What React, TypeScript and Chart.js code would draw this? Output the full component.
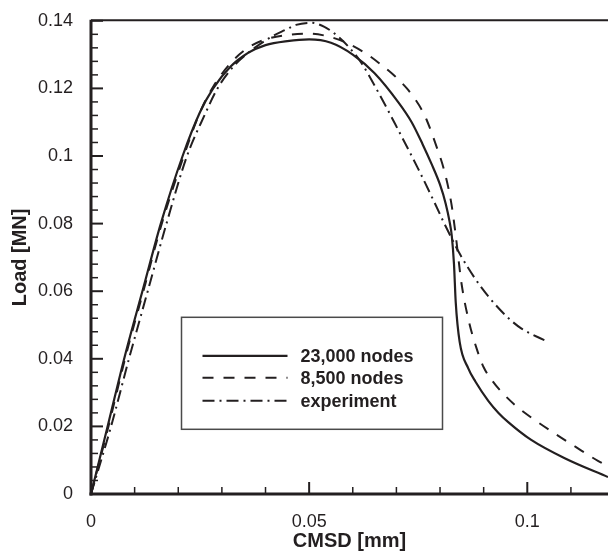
import React, { useEffect, useRef } from "react";
import { Chart, registerables } from "chart.js";

Chart.register(...registerables);

const seriesLabels = ["23,000 nodes", "8,500 nodes", "experiment"];

const fineX = [0, 0.004, 0.008, 0.012, 0.016, 0.021, 0.025, 0.028, 0.032, 0.036, 0.04, 0.045, 0.05, 0.055, 0.06, 0.065, 0.0705, 0.0735, 0.076, 0.078, 0.08, 0.0813, 0.0822, 0.0827, 0.0832, 0.0836, 0.0845, 0.0865, 0.0881, 0.0911, 0.0934, 0.0957, 0.1009, 0.1087, 0.1185];
const fineY = [0, 0.021, 0.042, 0.061, 0.08, 0.1, 0.113, 0.12, 0.1265, 0.1305, 0.1328, 0.134, 0.1345, 0.1335, 0.13, 0.1245, 0.1158, 0.11, 0.1035, 0.0978, 0.0915, 0.0859, 0.0805, 0.0763, 0.068, 0.0567, 0.045, 0.0371, 0.0333, 0.0275, 0.024, 0.0212, 0.016, 0.0105, 0.005];

const coarseX = [0, 0.004, 0.008, 0.012, 0.016, 0.021, 0.025, 0.028, 0.032, 0.036, 0.04, 0.045, 0.05, 0.054, 0.058, 0.0628, 0.0665, 0.0695, 0.0724, 0.0744, 0.0758, 0.0769, 0.079, 0.081, 0.0826, 0.0836, 0.0849, 0.0865, 0.0884, 0.09, 0.092, 0.0941, 0.0973, 0.1018, 0.1064, 0.111, 0.1162, 0.1185];
const coarseY = [0, 0.02, 0.041, 0.06, 0.079, 0.099, 0.113, 0.1205, 0.1275, 0.132, 0.1345, 0.1358, 0.1362, 0.1355, 0.1338, 0.1305, 0.127, 0.1238, 0.12, 0.1166, 0.1137, 0.1108, 0.1035, 0.0955, 0.0859, 0.0765, 0.0625, 0.0517, 0.043, 0.0375, 0.0335, 0.0302, 0.0262, 0.0218, 0.0178, 0.014, 0.0098, 0.0082];

const expX = [0, 0.0046, 0.0087, 0.013, 0.0173, 0.022, 0.026, 0.029, 0.033, 0.036, 0.041, 0.0447, 0.047, 0.0505, 0.0535, 0.0568, 0.0596, 0.0619, 0.066, 0.0705, 0.075, 0.079, 0.0808, 0.0824, 0.0842, 0.0865, 0.0893, 0.0927, 0.0957, 0.0986, 0.1021, 0.1048];
const expY = [0, 0.02, 0.04, 0.06, 0.08, 0.1, 0.112, 0.12, 0.127, 0.1305, 0.135, 0.1374, 0.1388, 0.1394, 0.1382, 0.1352, 0.1315, 0.1277, 0.1185, 0.1075, 0.0962, 0.0855, 0.0805, 0.0763, 0.0718, 0.0668, 0.0614, 0.056, 0.052, 0.049, 0.0466, 0.045];

const xTickValues = [0, 0.05, 0.1];
const xTickLabels = ["0", "0.05", "0.1"];
const xMinorTicks = [0.01, 0.02, 0.03, 0.04, 0.06, 0.07, 0.08, 0.09, 0.11];
const yTickValues = [0, 0.02, 0.04, 0.06, 0.08, 0.1, 0.12, 0.14];
const yTickLabels = ["0", "0.02", "0.04", "0.06", "0.08", "0.1", "0.12", "0.14"];
const yMinorTicks = [0.004, 0.008, 0.012, 0.016, 0.024, 0.028, 0.032, 0.036, 0.044, 0.048, 0.052, 0.056, 0.064, 0.068, 0.072, 0.076, 0.084, 0.088, 0.092, 0.096, 0.104, 0.108, 0.112, 0.116, 0.124, 0.128, 0.132, 0.136];

const INK = "#231f20";
const FONT = "'Liberation Sans', Arial, Helvetica, sans-serif";

const toPoints = (xs: number[], ys: number[]) => xs.map((x, i) => ({ x, y: ys[i] }));

const framePlugin = {
  id: "frame",
  afterDatasetsDraw(chart: any) {
    const { ctx, chartArea: a, scales } = chart;
    const xs = scales.x;
    const ys = scales.y;
    const line = (x1: number, y1: number, x2: number, y2: number) => {
      ctx.beginPath();
      ctx.moveTo(x1, y1);
      ctx.lineTo(x2, y2);
      ctx.stroke();
    };
    ctx.save();
    ctx.strokeStyle = INK;
    ctx.lineCap = "butt";
    ctx.setLineDash([]);
    ctx.lineWidth = 2;
    xTickValues.forEach((v) => {
      const px = xs.getPixelForValue(v);
      line(px, a.bottom, px, a.bottom - 12);
    });
    yTickValues.forEach((v) => {
      const py = ys.getPixelForValue(v);
      line(a.left, py, a.left + 12, py);
    });
    ctx.lineWidth = 1.5;
    xMinorTicks.forEach((v) => {
      const px = xs.getPixelForValue(v);
      line(px, a.bottom, px, a.bottom - 7);
    });
    yMinorTicks.forEach((v) => {
      const py = ys.getPixelForValue(v);
      line(a.left, py, a.left + 7, py);
    });
    // axes
    ctx.lineWidth = 3;
    line(a.left, a.top - 1, a.left, a.bottom + 1.5);
    line(a.left - 1.5, a.bottom, a.right, a.bottom);
    ctx.lineWidth = 2;
    line(a.left, a.top - 0.5, a.right, a.top - 0.5);

    // legend
    const bx = a.left + 90.5;
    const by = a.top + 296.5;
    const bw = 261;
    const bh = 112;
    ctx.fillStyle = "#ffffff";
    ctx.fillRect(bx, by, bw, bh);
    ctx.strokeStyle = "#4a4a4a";
    ctx.lineWidth = 1.5;
    ctx.strokeRect(bx, by, bw, bh);
    const rows = [a.top + 335, a.top + 357, a.top + 380];
    chart.data.datasets.forEach((ds: any, i: number) => {
      const y = rows[i];
      ctx.strokeStyle = INK;
      ctx.lineWidth = ds.borderWidth;
      ctx.setLineDash(ds.borderDash || []);
      line(bx + 21, y, bx + 106, y);
      ctx.setLineDash([]);
      ctx.fillStyle = INK;
      ctx.font = `bold 18px ${FONT}`;
      ctx.textAlign = "left";
      ctx.textBaseline = "middle";
      ctx.fillText(ds.label, bx + 119, y + 1);
    });
    ctx.restore();
  },
};

export default function App() {
  const ref = useRef<HTMLCanvasElement | null>(null);
  useEffect(() => {
    document.body.style.margin = "0";
    if (!ref.current) return;
    const chart = new Chart(ref.current, {
      type: "line",
      data: {
        datasets: [
          {
            label: seriesLabels[0],
            data: toPoints(fineX, fineY),
            borderColor: INK,
            borderWidth: 2.2,
            borderDash: [],
            pointRadius: 0,
            fill: false,
            cubicInterpolationMode: "monotone",
          },
          {
            label: seriesLabels[1],
            data: toPoints(coarseX, coarseY),
            borderColor: INK,
            borderWidth: 2,
            borderDash: [11, 10],
            pointRadius: 0,
            fill: false,
            cubicInterpolationMode: "monotone",
          },
          {
            label: seriesLabels[2],
            data: toPoints(expX, expY),
            borderColor: INK,
            borderWidth: 2,
            borderDash: [12, 5, 2, 5],
            pointRadius: 0,
            fill: false,
            cubicInterpolationMode: "monotone",
          },
        ],
      },
      options: {
        responsive: false,
        animation: false,
        devicePixelRatio: 1,
        layout: { padding: { top: 16, right: 0, left: 0, bottom: 0 } },
        plugins: { legend: { display: false }, tooltip: { enabled: false } },
        scales: {
          x: {
            type: "linear",
            min: 0,
            max: 0.1185,
            afterFit: (s: any) => {
              s.height = 59;
            },
            afterBuildTicks: (s: any) => {
              s.ticks = xTickValues.map((v) => ({ value: v }));
            },
            grid: { display: false },
            border: { display: false },
            ticks: {
              autoSkip: false,
              maxRotation: 0,
              padding: 9,
              color: INK,
              font: { family: FONT, size: 18 },
              callback: (v: any) => xTickLabels[xTickValues.findIndex((t) => Math.abs(t - v) < 1e-9)] ?? "",
            },
            title: {
              display: true,
              text: "CMSD [mm]",
              color: INK,
              font: { family: FONT, size: 20, weight: "bold" },
              padding: { top: 0, bottom: 0 },
            },
          },
          y: {
            type: "linear",
            min: 0,
            max: 0.14,
            afterFit: (s: any) => {
              s.width = 91;
            },
            afterBuildTicks: (s: any) => {
              s.ticks = yTickValues.map((v) => ({ value: v }));
            },
            grid: { display: false },
            border: { display: false },
            ticks: {
              autoSkip: false,
              padding: 10,
              color: INK,
              font: { family: FONT, size: 18 },
              callback: (v: any) => yTickLabels[yTickValues.findIndex((t) => Math.abs(t - v) < 1e-9)] ?? "",
            },
            title: {
              display: true,
              text: "Load [MN]",
              color: INK,
              font: { family: FONT, size: 20, weight: "bold" },
              padding: { top: 8, bottom: 0 },
            },
          },
        },
      },
      plugins: [framePlugin],
    } as any);
    return () => chart.destroy();
  }, []);
  return (
    <div style={{ width: 608, height: 553 }}>
      <canvas ref={ref} width={608} height={553} />
    </div>
  );
}
